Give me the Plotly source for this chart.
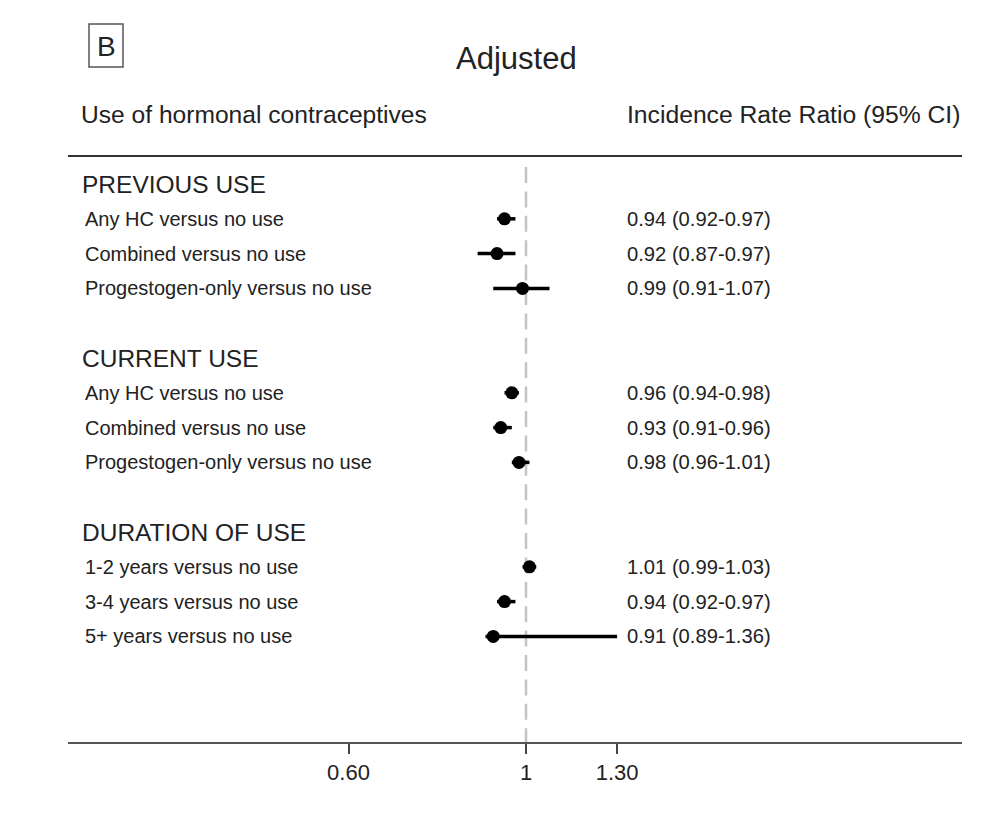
import math
import plotly.graph_objects as go

# ---------------- data ----------------
sections = ["PREVIOUS USE", "CURRENT USE", "DURATION OF USE"]
row_labels = [
    ["Any HC versus no use", "Combined versus no use", "Progestogen-only versus no use"],
    ["Any HC versus no use", "Combined versus no use", "Progestogen-only versus no use"],
    ["1-2 years versus no use", "3-4 years versus no use", "5+ years versus no use"],
]
irr = [[0.94, 0.92, 0.99], [0.96, 0.93, 0.98], [1.01, 0.94, 0.91]]
ci_low = [[0.92, 0.87, 0.91], [0.94, 0.91, 0.96], [0.99, 0.92, 0.89]]
ci_high = [[0.97, 0.97, 1.07], [0.98, 0.96, 1.01], [1.03, 0.97, 1.36]]
tick_vals = [0.60, 1, 1.30]
tick_text = ["0.60", "1", "1.30"]
null_value = 1

# ---------------- layout constants ----------------
W, H = 997, 815
AX_BOTTOM = 742          # px of x axis line
X_LEFT, X_RIGHT = 68, 962
X_ONE = 526              # px of value 1
PX_PER_DECADE = 800
ROW0, ROW_STEP = 184, 34.8
FONT = "Liberation Sans, Arial, sans-serif"
TXT = "#222222"
CLIP_MAX = max(tick_vals)   # CI lines are cut at the largest tick

xr = [(X_LEFT - X_ONE) / PX_PER_DECADE, (X_RIGHT - X_ONE) / PX_PER_DECADE]

ys, xs, ep, em = [], [], [], []
annotations = []
shapes = []

slot = 0
for s, sec in enumerate(sections):
    annotations.append(dict(x=80 / W, xref="paper", y=ROW0 + ROW_STEP * slot, yref="y",
                            text=sec, showarrow=False, xanchor="left", yanchor="middle",
                            font=dict(size=24.5, color=TXT, family=FONT)))
    slot += 1
    for k, lab in enumerate(row_labels[s]):
        y = ROW0 + ROW_STEP * slot
        v, lo, hi = irr[s][k], ci_low[s][k], ci_high[s][k]
        xs.append(v)
        ys.append(y)
        ep.append(min(hi, CLIP_MAX) - v)
        em.append(v - lo)
        annotations.append(dict(x=83 / W, xref="paper", y=y, yref="y", text=lab,
                                showarrow=False, xanchor="left", yanchor="middle",
                                font=dict(size=20, color=TXT, family=FONT)))
        annotations.append(dict(x=625 / W, xref="paper", y=y, yref="y",
                                text=f"{v:.2f} ({lo:.2f}-{hi:.2f})",
                                showarrow=False, xanchor="left", yanchor="middle",
                                font=dict(size=20.2, color=TXT, family=FONT)))
        slot += 1
    slot += 1

# headers
annotations += [
    dict(x=516 / W, xref="paper", y=58, yref="y", text="Adjusted", showarrow=False,
         xanchor="center", yanchor="middle", font=dict(size=31, color=TXT, family=FONT)),
    dict(x=106 / W, xref="paper", y=46, yref="y", text="B", showarrow=False,
         xanchor="center", yanchor="middle", font=dict(size=28, color=TXT, family=FONT)),
    dict(x=79 / W, xref="paper", y=114, yref="y", text="Use of hormonal contraceptives",
         showarrow=False, xanchor="left", yanchor="middle",
         font=dict(size=24.6, color=TXT, family=FONT)),
    dict(x=625 / W, xref="paper", y=114, yref="y", text="Incidence Rate Ratio (95% CI)",
         showarrow=False, xanchor="left", yanchor="middle",
         font=dict(size=24.7, color=TXT, family=FONT)),
]

shapes += [
    dict(type="line", xref="x", x0=null_value, x1=null_value, yref="y", y0=167, y1=AX_BOTTOM,
         line=dict(color="#c4c4c4", width=2.5, dash="16px,8.4px"), layer="below"),
    dict(type="line", xref="paper", x0=X_LEFT / W, x1=X_RIGHT / W, yref="y", y0=156, y1=156,
         line=dict(color="#333333", width=2)),
    dict(type="rect", xref="paper", x0=89 / W, x1=123 / W, yref="y", y0=24, y1=67,
         line=dict(color="#555555", width=1.5)),
]

fig = go.Figure()
fig.add_trace(go.Scatter(
    x=xs, y=ys, mode="markers",
    marker=dict(size=13, color="black"),
    error_x=dict(type="data", symmetric=False, array=ep, arrayminus=em,
                 width=0, thickness=3.5, color="black"),
    hoverinfo="skip", showlegend=False,
))

fig.update_layout(
    width=W, height=H,
    margin=dict(l=0, r=0, t=0, b=H - AX_BOTTOM, pad=0),
    paper_bgcolor="white", plot_bgcolor="white",
    xaxis=dict(type="log", range=xr, domain=[X_LEFT / W, X_RIGHT / W],
               showline=True, linecolor="#555555", linewidth=2,
               ticks="outside", ticklen=10, tickwidth=2, tickcolor="#444444",
               tickvals=tick_vals, ticktext=tick_text,
               tickfont=dict(size=22, color=TXT, family=FONT),
               showgrid=False, zeroline=False, fixedrange=True),
    yaxis=dict(range=[AX_BOTTOM, 0], visible=False, fixedrange=True),
    annotations=annotations,
    shapes=shapes,
)

fig.write_html("out.html", config={"displayModeBar": False},
               post_script="document.body.style.margin='0';document.body.style.overflow='hidden';")
